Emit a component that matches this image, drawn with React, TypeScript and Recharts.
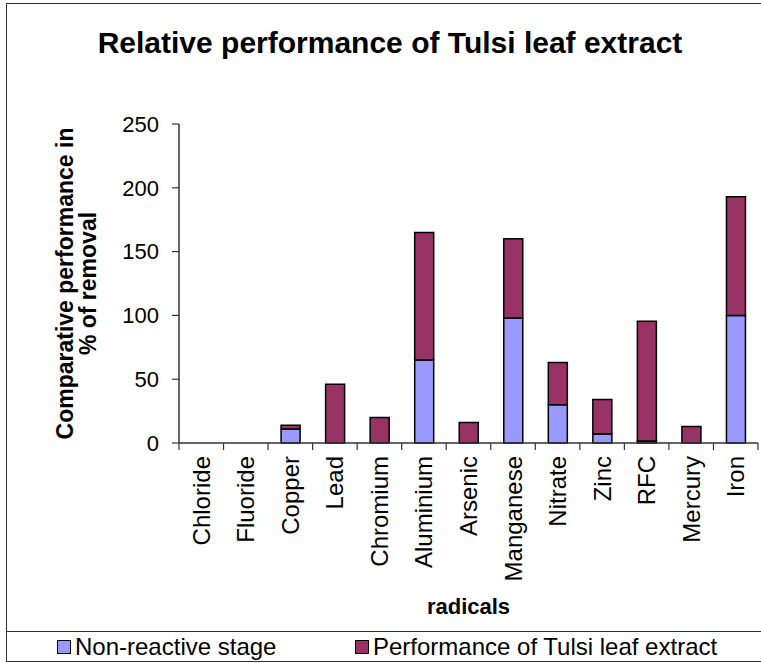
import React from 'react';
import { BarChart, Bar, XAxis, YAxis } from 'recharts';

const categories = ['Chloride', 'Fluoride', 'Copper', 'Lead', 'Chromium', 'Aluminium', 'Arsenic', 'Manganese', 'Nitrate', 'Zinc', 'RFC', 'Mercury', 'Iron'];
const nonReactive = [0, 0, 11, 0, 0, 65, 0, 98, 30, 7, 1.5, 0, 100];
const tulsiExtract = [0, 0, 3, 46, 20, 100, 16, 62, 33, 27, 94, 13, 93];
const yTicks = [0, 50, 100, 150, 200, 250];

const seriesNames = ['Non-reactive stage', 'Performance of Tulsi leaf extract'];
const colors = ['#9999FF', '#993366'];

const data = categories.map((name, i) => ({ name, nonReactive: nonReactive[i], tulsi: tulsiExtract[i] }));

const FONT = 'Arial, "Liberation Sans", sans-serif';

const XTick = (props: any) => {
  const { x, y, payload, index } = props;
  const off = payload.offset || 0;
  return (
    <g>
      <line x1={x - off} x2={x - off} y1={y - 8} y2={y - 1} stroke="#333" strokeWidth={1.2} />
      {index === categories.length - 1 && (
        <line x1={x + off} x2={x + off} y1={y - 8} y2={y - 1} stroke="#333" strokeWidth={1.2} />
      )}
      <text
        transform={`translate(${x},${y + 5}) rotate(-90)`}
        textAnchor="end"
        dominantBaseline="central"
        fontSize={24}
        fontFamily={FONT}
        fill="#000"
      >
        {payload.value}
      </text>
    </g>
  );
};

const YLabel = (props: any) => {
  const vb = props.viewBox || { x: 0, y: 124, width: 179, height: 319 };
  const cy = vb.y + vb.height / 2;
  const x1 = vb.x + 65;
  const x2 = vb.x + 88;
  return (
    <g fontFamily={FONT} fontWeight="bold" fontSize={23} fill="#000">
      <text transform={`translate(${x1},${cy}) rotate(-90)`} textAnchor="middle" dominantBaseline="central">
        Comparative performance in
      </text>
      <text transform={`translate(${x2},${cy}) rotate(-90)`} textAnchor="middle" dominantBaseline="central">
        % of removal
      </text>
    </g>
  );
};

const XLabel = (props: any) => {
  const vb = props.viewBox || { x: 179, y: 443, width: 578, height: 220 };
  return (
    <text x={vb.x + vb.width / 2} y={vb.y + 171} textAnchor="middle" fontFamily={FONT} fontWeight="bold" fontSize={22} fill="#000">
      radicals
    </text>
  );
};

export default function App() {
  return (
    <div style={{ position: 'absolute', left: 0, top: 0, width: 761, height: 663, background: '#fff', overflow: 'hidden' }}>
      <div style={{ position: 'absolute', left: 6, top: 3, width: 760, height: 659, border: '1.5px solid #333', boxSizing: 'border-box' }} />
      <div style={{ position: 'absolute', left: 6, top: 631, width: 760, height: 0, borderTop: '1.5px solid #333' }} />
      <div style={{ position: 'absolute', left: 0, top: 26, width: 780, textAlign: 'center', fontFamily: FONT, fontWeight: 'bold', fontSize: 30, color: '#000' }}>
        Relative performance of Tulsi leaf extract
      </div>
      <div style={{ position: 'absolute', left: 0, top: 0 }}>
        <BarChart width={761} height={663} data={data} margin={{ top: 124, right: 3, bottom: 0, left: 0 }} barSize={19}>
          <XAxis
            dataKey="name"
            height={220}
            interval={0}
            tickLine={false}
            axisLine={{ stroke: '#333', strokeWidth: 1.5 }}
            tick={<XTick />}
            label={{ content: <XLabel /> }}
          />
          <XAxis xAxisId="top" orientation="top" dataKey="name" height={0} tick={false} tickLine={false} axisLine={{ stroke: '#999', strokeWidth: 1.5 }} />
          <YAxis
            width={179}
            domain={[0, 250]}
            ticks={yTicks}
            interval={0}
            tickSize={7}
            tickMargin={13}
            axisLine={{ stroke: '#333', strokeWidth: 1.5 }}
            tickLine={{ stroke: '#333', strokeWidth: 1.2 }}
            tick={{ fill: '#000', fontSize: 22, fontFamily: FONT }}
            label={{ content: <YLabel /> }}
          />
          <YAxis yAxisId="right" orientation="right" width={0} domain={[0, 250]} tick={false} tickLine={false} axisLine={{ stroke: '#999', strokeWidth: 1.5 }} />
          <Bar dataKey="nonReactive" name={seriesNames[0]} stackId="a" fill={colors[0]} stroke="#000" strokeWidth={1.5} isAnimationActive={false} />
          <Bar dataKey="tulsi" name={seriesNames[1]} stackId="a" fill={colors[1]} stroke="#000" strokeWidth={1.5} isAnimationActive={false} />
        </BarChart>
      </div>
      <div style={{ position: 'absolute', left: 0, top: 632, width: 761, height: 30, fontFamily: FONT, fontSize: 24, color: '#000' }}>
        {seriesNames.map((n, i) => (
          <div key={n} style={{ position: 'absolute', left: i === 0 ? 57 : 355, top: 1, height: 28, display: 'flex', alignItems: 'center', whiteSpace: 'nowrap' }}>
            <span style={{ display: 'inline-block', width: 12, height: 12, background: colors[i], border: '1px solid #000', marginRight: 4 }} />
            <span>{n}</span>
          </div>
        ))}
      </div>
    </div>
  );
}
